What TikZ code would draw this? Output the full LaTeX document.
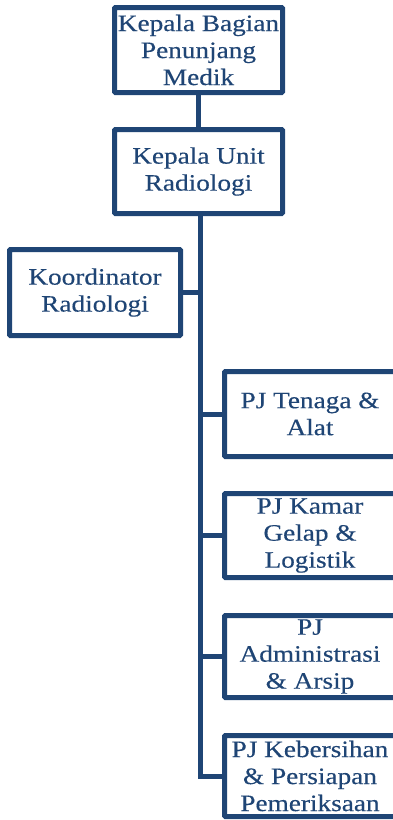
\documentclass[tikz,border=0pt]{standalone}
\usepackage{fontspec}
\setmainfont[FakeStretch=1.16, FakeBold=0.3]{Liberation Serif}
\definecolor{navy}{RGB}{31,69,117}
\tikzset{
  orgbox/.style={draw=navy, line width=5pt, rounded corners=1pt, fill=white,
    text=navy, align=center, inner sep=0pt,
    font=\fontsize{23.5}{27}\selectfont},
  link/.style={draw=navy, line width=5pt}
}
\begin{document}
\begin{tikzpicture}[x=1pt,y=-1pt]
  \useasboundingbox (0,0) rectangle (392,820);
  % head of the unit chain
  \node[orgbox, minimum width=168pt, minimum height=85pt] (kabag) at (198.5,50)
    {Kepala Bagian\\Penunjang\\Medik};
  \node[orgbox, minimum width=168pt, minimum height=84pt] (kaunit) at (198.5,171.5)
    {Kepala Unit\\Radiologi};
  \node[orgbox, minimum width=171pt, minimum height=86pt] (koord) at (95,292.5)
    {Koordinator\\Radiologi};
  % staff in charge, right column (right edge runs off the page)
  \node[orgbox, minimum width=171pt, minimum height=85pt] (tenaga) at (310,414)
    {PJ Tenaga \&\\Alat};
  \node[orgbox, minimum width=171pt, minimum height=84pt] (kamar) at (310,535.5)
    {PJ Kamar\\Gelap \&\\Logistik};
  \node[orgbox, minimum width=171pt, minimum height=82pt] (admin) at (310,656.5)
    {PJ\\Administrasi\\\& Arsip};
  \node[orgbox, minimum width=171pt, minimum height=81pt] (bersih) at (310,776)
    {PJ Kebersihan\\\& Persiapan\\Pemeriksaan};
  % connectors
  \coordinate (trunk) at ([xshift=1.5pt]kaunit.south);
  \draw[link] (kabag.south) -- (kabag.south |- kaunit.north);
  \draw[link] (trunk) -- (trunk |- bersih.west) -- (bersih.west);
  \draw[link] (koord.east) -- (koord.east -| trunk);
  \draw[link] (trunk |- tenaga.west) -- (tenaga.west);
  \draw[link] (trunk |- kamar.west) -- (kamar.west);
  \draw[link] (trunk |- admin.west) -- (admin.west);
\end{tikzpicture}
\end{document}
